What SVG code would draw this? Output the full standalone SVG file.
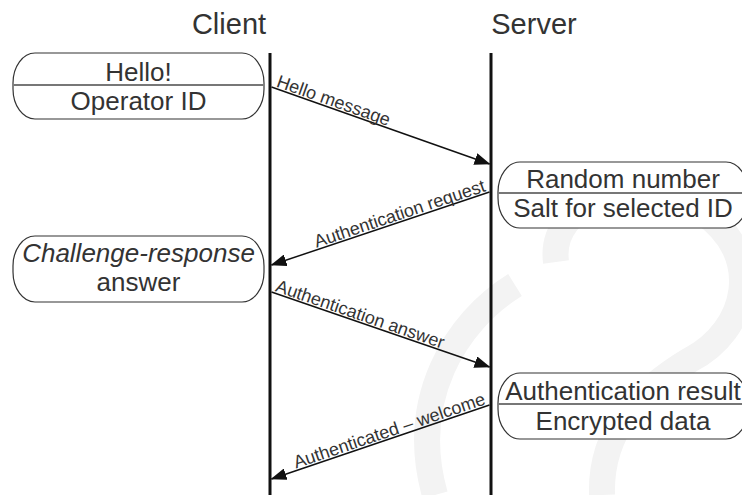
<svg xmlns="http://www.w3.org/2000/svg" width="742" height="495" viewBox="0 0 742 495">
<style>
.title{font-family:"Liberation Sans",Arial,sans-serif;font-size:29px;fill:#333;text-anchor:middle}
.nt{font-family:"Liberation Sans",Arial,sans-serif;font-size:26px;fill:#333;text-anchor:middle}
.it{font-style:italic}
.lbl{font-family:"Liberation Sans",Arial,sans-serif;font-size:18px;fill:#333}
.box{fill:#fff;stroke:#333;stroke-width:1.2}
.div{stroke:#777;stroke-width:2}
.life{stroke:#111;stroke-width:3}
.msg{stroke:#111;stroke-width:1.5;fill:none;marker-end:url(#ah)}
.wm{fill:none;stroke:#f3f3f3;stroke-width:26;stroke-linecap:butt}
</style>
<defs>
<marker id="ah" markerUnits="userSpaceOnUse" markerWidth="16" markerHeight="12" refX="15" refY="6" orient="auto">
<path d="M0,0 L16,6 L0,12 z" fill="#111"/>
</marker>
</defs>
<rect width="742" height="495" fill="#fff"/>
<g id="watermark">
<path class="wm" d="M556 262 C548 200 640 172 702 212 C765 255 748 330 690 360 C640 390 600 430 602 495"/>
<path class="wm" d="M515 285 C455 322 408 400 435 495"/>
</g>
<g id="client">
<text class="title" x="229" y="34">Client</text>
<line class="life" x1="270" y1="53" x2="270" y2="495"/>
</g>
<g id="server">
<text class="title" x="534" y="34">Server</text>
<line class="life" x1="491" y1="53" x2="491" y2="495"/>
</g>
<g id="hello">
<rect class="box" x="13" y="53" width="251" height="66" rx="22" ry="30"/>
<line class="div" x1="13.5" y1="85" x2="263.5" y2="85"/>
<text class="nt" x="138.5" y="81">Hello!</text>
<text class="nt" x="138.5" y="110">Operator ID</text>
</g>
<g id="random">
<rect class="box" x="498" y="162" width="250" height="66" rx="22" ry="30"/>
<line class="div" x1="498.5" y1="193" x2="747.5" y2="193"/>
<text class="nt" x="623" y="188">Random number</text>
<text class="nt" x="623" y="217">Salt for selected ID</text>
</g>
<g id="challenge">
<rect class="box" x="13" y="236" width="251" height="66" rx="22" ry="30"/>
<text class="nt it" x="138.5" y="262">Challenge-response</text>
<text class="nt" x="138.5" y="291">answer</text>
</g>
<g id="result">
<rect class="box" x="498" y="373" width="250" height="66" rx="22" ry="30"/>
<line class="div" x1="498.5" y1="404" x2="747.5" y2="404"/>
<text class="nt" x="623" y="400">Authentication result</text>
<text class="nt" x="623" y="430">Encrypted data</text>
</g>
<g id="connectors">
<line class="msg" x1="271.5" y1="87" x2="489.5" y2="164"/>
<text class="lbl" transform="translate(272,87.3) rotate(19.45)" x="3" y="-2">Hello message</text>
<line class="msg" x1="489.5" y1="192" x2="271.5" y2="265"/>
<text class="lbl" transform="translate(489,192.2) rotate(-18.5)" x="-2" y="-2" text-anchor="end">Authentication request</text>
<line class="msg" x1="271.5" y1="292" x2="489.5" y2="367"/>
<text class="lbl" transform="translate(272,292.3) rotate(18.98)" x="2" y="-2">Authentication answer</text>
<line class="msg" x1="489.5" y1="405" x2="271.5" y2="479"/>
<text class="lbl" transform="translate(489,405.2) rotate(-18.74)" x="-2" y="-2" text-anchor="end">Authenticated – welcome</text>
</g>
</svg>
